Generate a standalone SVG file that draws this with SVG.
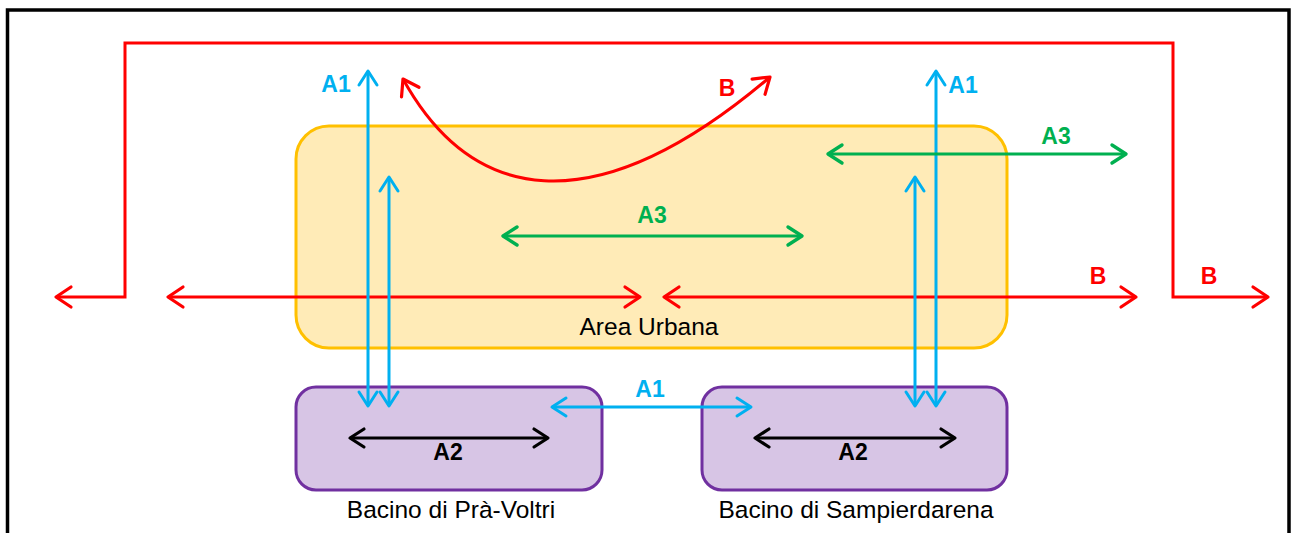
<svg xmlns="http://www.w3.org/2000/svg" width="1297" height="533" viewBox="0 0 1297 533">
  <style>
    .lbl { font-family: "Liberation Sans", Arial, sans-serif; font-weight: bold; font-size: 23px; text-anchor: middle; }
    .name { font-family: "Liberation Sans", Arial, sans-serif; font-size: 24.5px; text-anchor: middle; fill: #000; }
    .red { stroke: #FF0000; }
    .blue { stroke: #00B0F0; }
    .green { stroke: #00B050; }
    .black { stroke: #000; }
    .conn { fill: none; stroke-width: 3; }
  </style>
  <defs>
    <marker id="mr" markerUnits="userSpaceOnUse" markerWidth="30" markerHeight="30" viewBox="-20 -15 30 30" refX="0" refY="0" orient="auto-start-reverse">
      <path d="M-15,-10 L0,0 L-15,10" fill="none" stroke="#FF0000" stroke-width="3.2" stroke-linecap="round" stroke-linejoin="round"/>
    </marker>
    <marker id="mb" markerUnits="userSpaceOnUse" markerWidth="30" markerHeight="30" viewBox="-20 -15 30 30" refX="0" refY="0" orient="auto-start-reverse">
      <path d="M-14,-9 L0,0 L-14,9" fill="none" stroke="#00B0F0" stroke-width="3" stroke-linecap="round" stroke-linejoin="round"/>
    </marker>
    <marker id="mg" markerUnits="userSpaceOnUse" markerWidth="30" markerHeight="30" viewBox="-20 -15 30 30" refX="0" refY="0" orient="auto-start-reverse">
      <path d="M-14,-9 L0,0 L-14,9" fill="none" stroke="#00B050" stroke-width="3.4" stroke-linecap="round" stroke-linejoin="round"/>
    </marker>
    <marker id="mk" markerUnits="userSpaceOnUse" markerWidth="30" markerHeight="30" viewBox="-20 -15 30 30" refX="0" refY="0" orient="auto-start-reverse">
      <path d="M-14,-9 L0,0 L-14,9" fill="none" stroke="#000" stroke-width="3.2" stroke-linecap="round" stroke-linejoin="round"/>
    </marker>
  </defs>

  <rect x="0" y="0" width="1297" height="533" fill="#fff"/>
  <rect id="frame" x="7.5" y="10" width="1281.5" height="540" fill="none" stroke="#000" stroke-width="3.5"/>

  <g id="area-urbana">
    <rect x="296" y="126" width="711" height="222" rx="33" ry="33" fill="#FFEBB7" stroke="#FFC000" stroke-width="3"/>
    <text class="name" x="649" y="335">Area Urbana</text>
  </g>

  <g id="bacino-pra-voltri">
    <rect x="296" y="387" width="306" height="103" rx="20" ry="20" fill="#D7C5E5" stroke="#7030A0" stroke-width="3"/>
    <text class="name" x="451" y="518">Bacino di Prà-Voltri</text>
  </g>

  <g id="bacino-sampierdarena">
    <rect x="702" y="387" width="305" height="103" rx="20" ry="20" fill="#D7C5E5" stroke="#7030A0" stroke-width="3"/>
    <text class="name" x="856" y="518">Bacino di Sampierdarena</text>
  </g>

  <g id="connectors">
    <!-- B outer loop -->
    <path class="conn red" d="M56,297 H125 V43 H1173 V297 H1268" marker-start="url(#mr)" marker-end="url(#mr)"/>
    <!-- B horizontal arrows -->
    <path class="conn red" d="M168,297 H640" marker-start="url(#mr)" marker-end="url(#mr)"/>
    <path class="conn red" d="M664,297 H1136" marker-start="url(#mr)" marker-end="url(#mr)"/>
    <!-- B curve -->
    <path class="conn red" d="M403,79 C470,200 590,230 770,77" marker-start="url(#mr)" marker-end="url(#mr)"/>

    <!-- A1 verticals -->
    <path class="conn blue" d="M368,71 V406" marker-start="url(#mb)" marker-end="url(#mb)"/>
    <path class="conn blue" d="M389,177 V406" marker-start="url(#mb)" marker-end="url(#mb)"/>
    <path class="conn blue" d="M915,177 V406" marker-start="url(#mb)" marker-end="url(#mb)"/>
    <path class="conn blue" d="M936,71 V406" marker-start="url(#mb)" marker-end="url(#mb)"/>
    <!-- A1 horizontal -->
    <path class="conn blue" d="M552,407 H751" marker-start="url(#mb)" marker-end="url(#mb)"/>

    <!-- A3 -->
    <path class="conn green" stroke-width="3.4" d="M828,154 H1126" marker-start="url(#mg)" marker-end="url(#mg)"/>
    <path class="conn green" stroke-width="3.4" d="M503,236 H802" marker-start="url(#mg)" marker-end="url(#mg)"/>

    <!-- A2 -->
    <path class="conn black" d="M350,438 H548" marker-start="url(#mk)" marker-end="url(#mk)"/>
    <path class="conn black" d="M755,438 H955" marker-start="url(#mk)" marker-end="url(#mk)"/>

    <!-- labels -->
    <text class="lbl" x="336" y="92" fill="#00B0F0">A1</text>
    <text class="lbl" x="963" y="93" fill="#00B0F0">A1</text>
    <text class="lbl" x="650" y="397" fill="#00B0F0">A1</text>
    <text class="lbl" x="727" y="96" fill="#FF0000">B</text>
    <text class="lbl" x="1098" y="284" fill="#FF0000">B</text>
    <text class="lbl" x="1209" y="284" fill="#FF0000">B</text>
    <text class="lbl" x="1056" y="144" fill="#00B050">A3</text>
    <text class="lbl" x="652" y="223" fill="#00B050">A3</text>
    <text class="lbl" x="448" y="460" fill="#000">A2</text>
    <text class="lbl" x="853" y="460" fill="#000">A2</text>
  </g>
</svg>
